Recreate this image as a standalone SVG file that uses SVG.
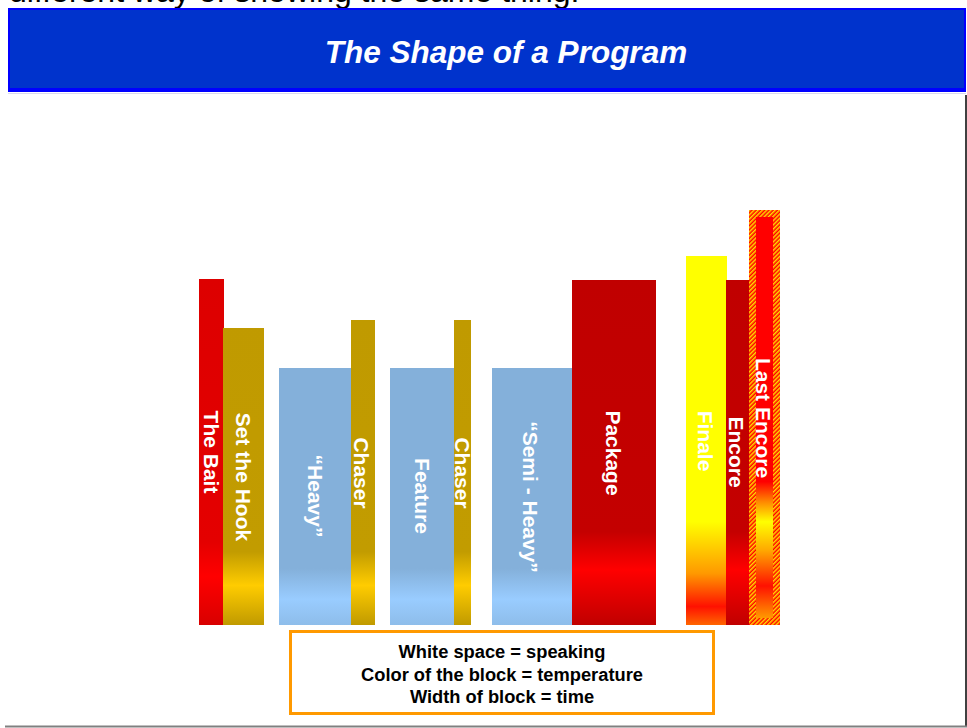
<svg xmlns="http://www.w3.org/2000/svg" width="967" height="728" viewBox="0 0 967 728">
<style>
.lbl{font-family:"Liberation Sans",Arial,sans-serif;font-weight:bold;font-size:21px;fill:#FFFFFF;text-anchor:middle}
.leg{font-family:"Liberation Sans",Arial,sans-serif;font-weight:bold;font-size:18.3px;fill:#000000;text-anchor:middle}
</style>
<defs>
<linearGradient id="gRed" gradientUnits="userSpaceOnUse" x1="0" y1="279" x2="0" y2="625">
<stop offset="0" stop-color="#DD0000"/>
<stop offset="0.76" stop-color="#E40000"/>
<stop offset="0.86" stop-color="#FF0000"/>
<stop offset="1" stop-color="#D80000"/>
</linearGradient>
<linearGradient id="gGold" gradientUnits="userSpaceOnUse" x1="0" y1="320" x2="0" y2="625">
<stop offset="0" stop-color="#C09A00"/>
<stop offset="0.76" stop-color="#C29C00"/>
<stop offset="0.87" stop-color="#FFCC00"/>
<stop offset="1" stop-color="#C09A00"/>
</linearGradient>
<linearGradient id="gBlue" gradientUnits="userSpaceOnUse" x1="0" y1="368" x2="0" y2="625">
<stop offset="0" stop-color="#84B0DA"/>
<stop offset="0.78" stop-color="#84B0DA"/>
<stop offset="0.9" stop-color="#99CCFF"/>
<stop offset="1" stop-color="#8EBDEA"/>
</linearGradient>
<linearGradient id="gDark" gradientUnits="userSpaceOnUse" x1="0" y1="280" x2="0" y2="625">
<stop offset="0" stop-color="#C00000"/>
<stop offset="0.73" stop-color="#C40000"/>
<stop offset="0.84" stop-color="#FF0000"/>
<stop offset="1" stop-color="#C00000"/>
</linearGradient>
<linearGradient id="gFinale" gradientUnits="userSpaceOnUse" x1="0" y1="256" x2="0" y2="625">
<stop offset="0" stop-color="#FFFF00"/>
<stop offset="0.72" stop-color="#FFFF00"/>
<stop offset="0.86" stop-color="#FF9900"/>
<stop offset="0.95" stop-color="#FF1100"/>
<stop offset="1" stop-color="#FF6600"/>
</linearGradient>
<linearGradient id="gLast" gradientUnits="userSpaceOnUse" x1="0" y1="217" x2="0" y2="618">
<stop offset="0" stop-color="#FF0000"/>
<stop offset="0.66" stop-color="#FF0000"/>
<stop offset="0.71" stop-color="#FF8800"/>
<stop offset="0.76" stop-color="#FFFF00"/>
<stop offset="0.83" stop-color="#FFAA00"/>
<stop offset="0.92" stop-color="#FF1100"/>
<stop offset="1" stop-color="#FF9900"/>
</linearGradient>
<pattern id="hatch" width="3" height="3" patternUnits="userSpaceOnUse" patternTransform="rotate(45)">
<rect width="3" height="3" fill="#FF0000"/>
<rect width="1.5" height="3" fill="#FFDD00"/>
</pattern>
</defs>

<g id="header">
<text x="9" y="2" font-family="'Liberation Sans',Arial,sans-serif" font-size="32" fill="#000000">different way of showing the same thing.</text>
<rect x="8" y="8" width="958" height="84" fill="#0000FF"/>
<rect x="10" y="10" width="954" height="78" fill="#0033CC"/>
<text x="506" y="63" font-family="'Liberation Sans',Arial,sans-serif" font-size="31.5" font-weight="bold" font-style="italic" fill="#FFFFFF" text-anchor="middle">The Shape of a Program</text>
<line x1="8" y1="93.5" x2="966" y2="93.5" stroke="#D8D8F0" stroke-width="1"/>
<line x1="966" y1="95" x2="966" y2="726" stroke="#000000" stroke-width="1.5"/>
<line x1="5" y1="726.5" x2="967" y2="726.5" stroke="#808080" stroke-width="2"/>
</g>

<g id="bait">
<rect x="199" y="279" width="25" height="346" fill="url(#gRed)"/>
<text class="lbl" transform="translate(211,452) rotate(90)" y="7.5">The Bait</text>
</g>
<g id="hook">
<rect x="223" y="328" width="41" height="297" fill="url(#gGold)"/>
<text class="lbl" transform="translate(243,477) rotate(90)" y="7.5">Set the Hook</text>
</g>
<g id="heavy">
<rect x="279" y="368" width="72" height="257" fill="url(#gBlue)"/>
<text class="lbl" transform="translate(315,496) rotate(90)" y="7.5">“Heavy”</text>
</g>
<g id="chaser1">
<rect x="351" y="320" width="24" height="305" fill="url(#gGold)"/>
<text class="lbl" transform="translate(361,473) rotate(90)" y="7.5">Chaser</text>
</g>
<g id="feature">
<rect x="390" y="368" width="64" height="257" fill="url(#gBlue)"/>
<text class="lbl" transform="translate(422,496) rotate(90)" y="7.5">Feature</text>
</g>
<g id="chaser2">
<rect x="454" y="320" width="17" height="305" fill="url(#gGold)"/>
<text class="lbl" transform="translate(462,473) rotate(90)" y="7.5">Chaser</text>
</g>
<g id="semiheavy">
<rect x="492" y="368" width="80" height="257" fill="url(#gBlue)"/>
<text class="lbl" transform="translate(530,497) rotate(90)" y="7.5">“Semi - Heavy”</text>
</g>
<g id="package">
<rect x="572" y="280" width="84" height="345" fill="url(#gDark)"/>
<text class="lbl" transform="translate(613,453) rotate(90)" y="7.5">Package</text>
</g>
<g id="finale">
<rect x="686" y="256" width="41" height="369" fill="url(#gFinale)"/>
<text class="lbl" transform="translate(705,441) rotate(90)" y="7.5">Finale</text>
</g>
<g id="encore">
<rect x="726" y="280" width="23" height="345" fill="url(#gDark)"/>
<text class="lbl" transform="translate(736,452) rotate(90)" y="7.5">Encore</text>
</g>
<g id="lastencore">
<rect x="749" y="210" width="31" height="415" fill="url(#hatch)"/>
<rect x="756" y="217" width="17" height="401" fill="url(#gLast)"/>
<text class="lbl" transform="translate(763,418) rotate(90)" y="7.5">Last Encore</text>
</g>

<g id="legend">
<rect x="290.5" y="631.5" width="423" height="82" fill="#FFFFFF" stroke="#FF9900" stroke-width="3"/>
<text class="leg" x="502" y="658">White space = speaking</text>
<text class="leg" x="502" y="681">Color of the block = temperature</text>
<text class="leg" x="502" y="703">Width of block = time</text>
</g>

<g id="connectors"/>
</svg>
